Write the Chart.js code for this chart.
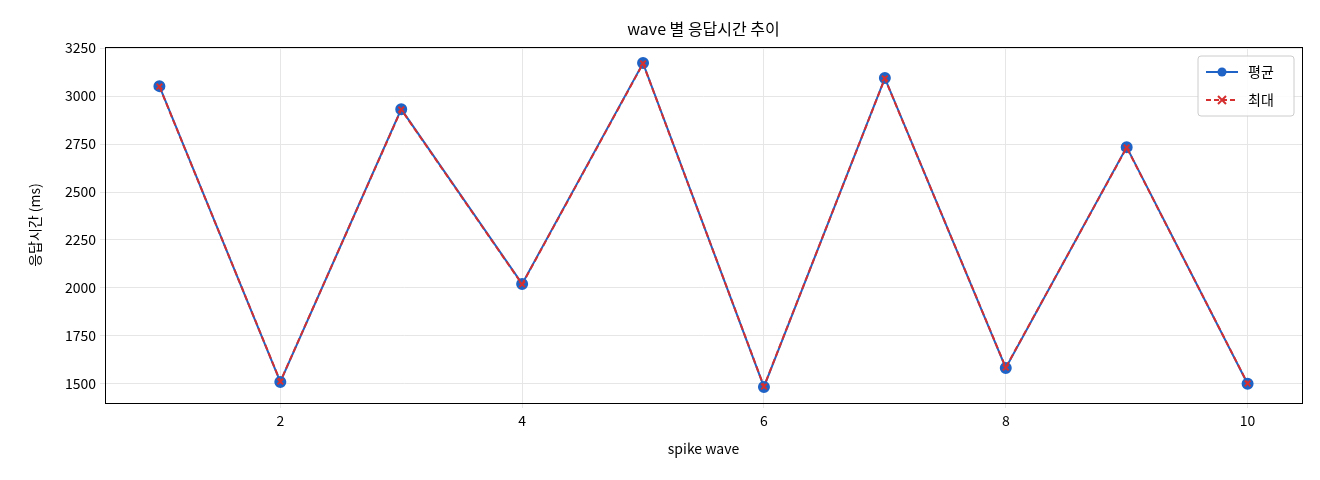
<!DOCTYPE html>
<html><head><meta charset="utf-8">
<script src="https://cdn.jsdelivr.net/npm/chart.js@4"></script>
<style>html,body{margin:0;padding:0;background:#fff}#w{width:1320px;height:480px}</style>
</head><body><div id="w"><canvas id="c"></canvas></div>
<script>
const waves = [1,2,3,4,5,6,7,8,9,10];
const avgMs = [3052,1510,2932,2021,3172,1484,3094,1583,2734,1500];
const maxMs = [3050,1512,2930,2019,3170,1486,3092,1585,2732,1502];
const yTicks = [1500,1750,2000,2250,2500,2750,3000,3250];
const F = "'Noto Sans CJK KR','Noto Sans',sans-serif";
const deco = {
  id:'deco',
  afterDraw(ch){
    const c=ch.ctx, a=ch.chartArea;
    c.save();
    c.strokeStyle='#000'; c.lineWidth=1;
    c.strokeRect(a.left+0.5,a.top+0.5,a.right-a.left,a.bottom-a.top);
    c.fillStyle='#000'; c.font='16px '+F; c.textAlign='center'; c.textBaseline='middle';
    c.fillText('wave 별 응답시간 추이',(a.left+a.right)/2,29);
    const bx=a.right-104, by=a.top+9, bw=96, bh=60;
    c.fillStyle='rgba(255,255,255,0.85)'; c.strokeStyle='#ccc';
    c.beginPath(); c.roundRect(bx,by,bw,bh,3); c.fill(); c.stroke();
    const items=[['평균','#1f63c6',false],['최대','#d62f2f',true]];
    items.forEach((it,i)=>{
      const y=by+16+i*28;
      c.strokeStyle=it[1]; c.lineWidth=2; c.setLineDash(it[2]?[5,3]:[]);
      c.beginPath(); c.moveTo(bx+8,y); c.lineTo(bx+40,y); c.stroke(); c.setLineDash([]);
      if(it[2]){c.beginPath();c.moveTo(bx+20,y-4);c.lineTo(bx+28,y+4);c.moveTo(bx+28,y-4);c.lineTo(bx+20,y+4);c.stroke();}
      else {c.fillStyle=it[1];c.beginPath();c.arc(bx+24,y,4.5,0,7);c.fill();}
      c.fillStyle='#000'; c.font='14px '+F; c.textAlign='left'; c.fillText(it[0],bx+50,y);
    });
    c.restore();
  }
};
new Chart(document.getElementById('c'),{
  type:'line',
  data:{datasets:[
    {label:'평균',data:waves.map((x,i)=>({x,y:avgMs[i]})),borderColor:'#1f63c6',backgroundColor:'#1f63c6',borderWidth:2,pointRadius:5,pointStyle:'circle',order:2},
    {label:'최대',data:waves.map((x,i)=>({x,y:maxMs[i]})),borderColor:'#d62f2f',backgroundColor:'#d62f2f',borderWidth:2,borderDash:[6,3],pointRadius:4,pointStyle:'crossRot',pointBorderWidth:2,order:1}
  ]},
  options:{
    responsive:true,maintainAspectRatio:false,animation:false,
    layout:{padding:{top:47,right:18,left:22,bottom:19}},
    plugins:{legend:{display:false},tooltip:{enabled:false}},
    scales:{
      x:{type:'linear',min:0.55,max:10.45,
        afterBuildTicks(s){s.ticks=[2,4,6,8,10].map(v=>({value:v}));},
        afterFit(s){s.height=58;},
        grid:{color:'#e6e6e6',tickLength:5},border:{display:false},
        ticks:{color:'#000',font:{family:F,size:14},padding:4,maxRotation:0,callback:v=>String(v)},
        title:{display:true,text:'spike wave',color:'#000',font:{family:F,size:14},padding:{top:4}}},
      y:{min:1400,max:3256,
        afterBuildTicks(s){s.ticks=yTicks.map(v=>({value:v}));},
        afterFit(s){s.width=83;},
        grid:{color:'#e6e6e6',tickLength:5},border:{display:false},
        ticks:{color:'#000',font:{family:F,size:14},padding:4,callback:v=>String(v)},
        title:{display:true,text:'응답시간 (ms)',color:'#000',font:{family:F,size:14},padding:{bottom:2}}}
    }
  },
  plugins:[deco]
});
</script></body></html>
